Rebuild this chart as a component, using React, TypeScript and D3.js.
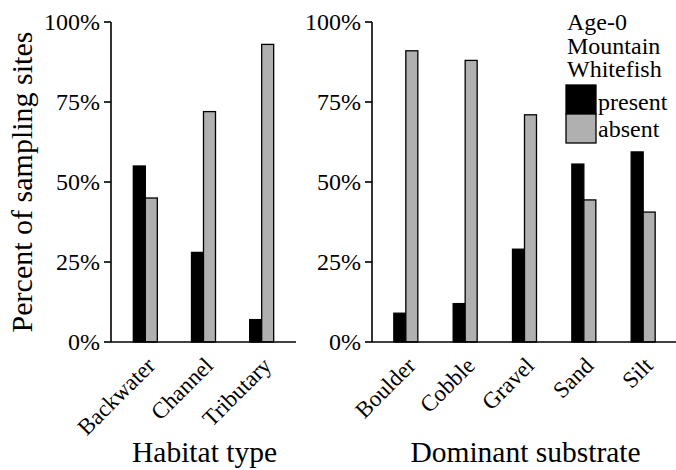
import React from 'react';
import * as d3 from 'd3';

const habitatCats = ['Backwater', 'Channel', 'Tributary'];
const habitatPresent = [55, 28, 7];
const habitatAbsent = [45, 72, 93];
const substrateCats = ['Boulder', 'Cobble', 'Gravel', 'Sand', 'Silt'];
const substratePresent = [9, 12, 29, 55.6, 59.4];
const substrateAbsent = [91, 88, 71, 44.4, 40.6];
const yTicks = [0, 25, 50, 75, 100];
const seriesNames = ['present', 'absent'];
const seriesColors = ['#000000', '#b0b0b0'];
const legendTitle = ['Age-0', 'Mountain', 'Whitefish'];

const FS = { fontFamily: '"Liberation Serif"' };
const Y0 = 342;
const Y1 = 22;
const BAR_W = 12;

const y = d3.scaleLinear().domain([0, 100]).range([Y0, Y1]);

function Panel({ x0, x1, cats, present, absent, title, pad }: any) {
  const x = d3.scalePoint<string>().domain(cats).range([x0, x1]).padding(pad);
  const series = [present, absent];
  return (
    <g>
      {cats.map((c: string, i: number) => (
        <g key={c}>
          {series.map((vals: number[], s: number) => (
            <rect
              key={s}
              x={(x(c) as number) - BAR_W + s * BAR_W}
              y={y(vals[i])}
              width={BAR_W}
              height={Y0 - y(vals[i])}
              fill={seriesColors[s]}
              stroke="#000"
              strokeWidth={1.3}
            />
          ))}
          <text
            transform={`translate(${(x(c) as number) + 11},${Y0 + 25}) rotate(-45)`}
            textAnchor="end"
            fontSize={23}
            style={FS}
          >
            {c}
          </text>
        </g>
      ))}
      <line x1={x0} x2={x0} y1={Y0} y2={Y1} stroke="#000" strokeWidth={1.6} />
      <line x1={x0} x2={x1} y1={Y0} y2={Y0} stroke="#000" strokeWidth={1.6} />
      {yTicks.map((t) => (
        <g key={t}>
          <line x1={x0 - 7} x2={x0} y1={y(t)} y2={y(t)} stroke="#000" strokeWidth={1.6} />
          <text x={x0 - 11} y={y(t)} dy="0.33em" textAnchor="end" fontSize={24} style={FS}>
            {t}%
          </text>
        </g>
      ))}
      <text x={(x0 + x1) / 2 + 1} y={462} textAnchor="middle" fontSize={29.5} style={FS}>
        {title}
      </text>
    </g>
  );
}

export default function App() {
  return (
    <svg
      width={676}
      height={470}
      style={{ position: 'absolute', left: 0, top: 0, background: '#fff', fontFamily: '"Liberation Serif"' }}
    >
      <rect width={676} height={470} fill="#fff" />
      <text
        transform={`translate(32,182) rotate(-90)`}
        textAnchor="middle"
        fontSize={30}
        style={FS}
      >
        Percent of sampling sites
      </text>
      <Panel x0={111} x1={296} cats={habitatCats} present={habitatPresent} absent={habitatAbsent} title="Habitat type" pad={0.59} />
      <Panel x0={372} x1={677} cats={substrateCats} present={substratePresent} absent={substrateAbsent} title="Dominant substrate" pad={0.57} />
      <g>
        {legendTitle.map((t, i) => (
          <text key={t} x={567} y={30 + i * 23.5} fontSize={24} style={FS}>
            {t}
          </text>
        ))}
        {seriesNames.map((n, i) => (
          <g key={n}>
            <rect x={566} y={85 + i * 29} width={30} height={29} fill={seriesColors[i]} stroke="#000" strokeWidth={1.3} />
            <text x={598} y={110 + i * 27} fontSize={24} style={FS}>
              {n}
            </text>
          </g>
        ))}
      </g>
    </svg>
  );
}
